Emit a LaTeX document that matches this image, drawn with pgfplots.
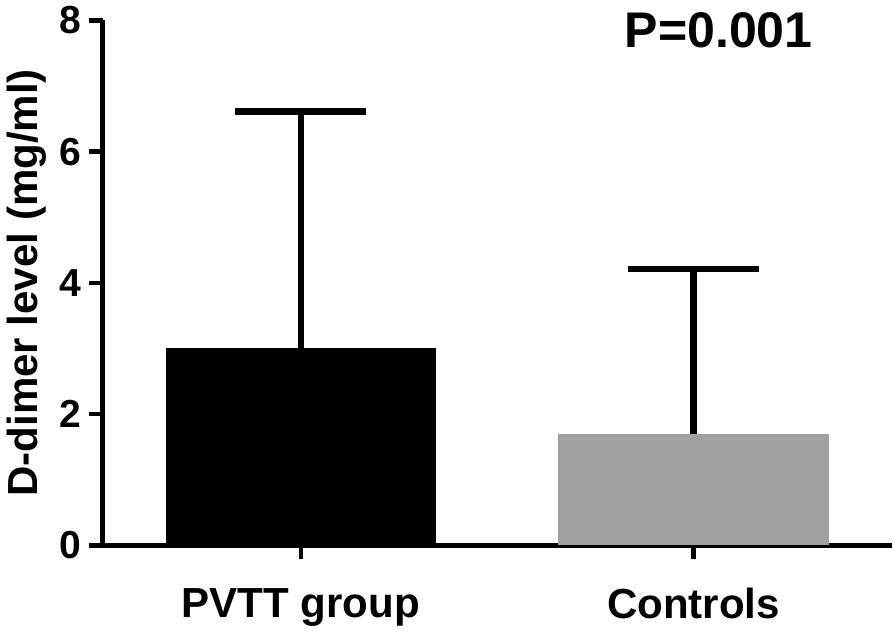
\documentclass[border=0pt]{standalone}
\usepackage{pgfplots}
\pgfplotsset{compat=1.18}
\usepackage{fontspec}
\setmainfont{Liberation Sans}
\definecolor{bargray}{RGB}{160,160,160}
\begin{document}
\begin{tikzpicture}
\begin{axis}[
 scale only axis, width=394pt, height=262pt,
 xmin=-0.505, xmax=1.505, ymin=0, ymax=8,
 axis x line*=bottom, axis y line*=left,
 axis line style={line width=2.3pt, black},
 ytick={0,2,4,6,8}, xtick={0,1}, xticklabels={PVTT group, Controls},
 tick align=outside, major tick length=7pt,
 tick style={line width=2.3pt, black},
 minor tick num=0,
 /pgf/number format/assume math mode=true,
 yticklabel style={font=\fontsize{19.5}{22}\selectfont\bfseries},
 xticklabel style={font=\fontsize{21}{25}\selectfont\bfseries, yshift=-11pt},
 ylabel={D-dimer level (mg/ml)},
 ylabel style={font=\fontsize{21}{25}\selectfont\bfseries},
 ybar, bar width=135pt, bar shift=0pt,
 clip=false,
]
\addplot[fill=black, draw=none,
  error bars/.cd, y dir=plus, y explicit, error mark=|,
  error bar style={line width=3.3pt, black},
  error mark options={line width=3.3pt, mark size=32.75pt, black}]
  coordinates {(0,3.01) +- (0,3.60)};
\addplot[fill=bargray, draw=none,
  error bars/.cd, y dir=plus, y explicit, error mark=|,
  error bar style={line width=3.3pt, black},
  error mark options={line width=3.3pt, mark size=32.75pt, black}]
  coordinates {(1,1.69) +- (0,2.52)};
\node[font=\fontsize{25}{30}\selectfont\bfseries, anchor=base] at (axis cs:1.064,7.59) {P=0.001};
\end{axis}
\end{tikzpicture}
\end{document}
